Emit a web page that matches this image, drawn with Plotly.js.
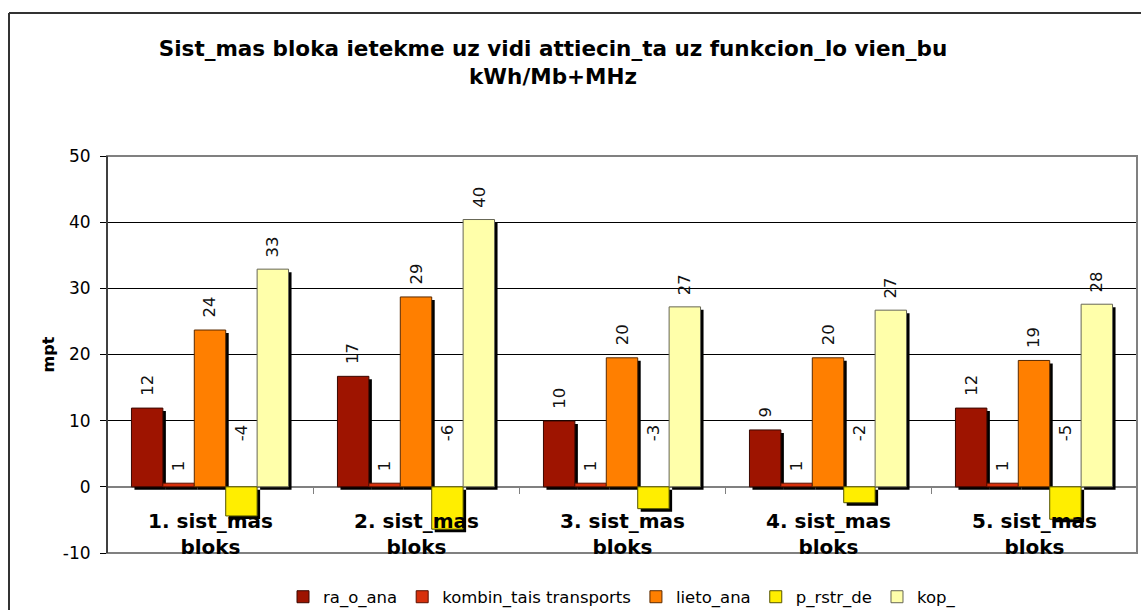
<!DOCTYPE html>
<html>
<head>
<meta charset="utf-8">
<script src="https://cdn.plot.ly/plotly-3.0.1.min.js"></script>
<style>
html,body{margin:0;padding:0;background:#fff;}
#chart{width:1141px;height:610px;}
</style>
</head>
<body>
<div id="chart"></div>
<script>
var categories = ["1. sist_mas<br>bloks", "2. sist_mas<br>bloks", "3. sist_mas<br>bloks", "4. sist_mas<br>bloks", "5. sist_mas<br>bloks"];
var seriesNames = ["ra_o_ana", "kombin_tais transports", "lieto_ana", "p_rstr_de", "kop_"];
var raOAna = [11.9, 16.7, 9.95, 8.6, 11.9];
var kombinTais = [0.55, 0.55, 0.55, 0.55, 0.55];
var lietoAna = [23.7, 28.7, 19.5, 19.5, 19.1];
var pRstrDe = [-4.4, -6.4, -3.3, -2.4, -4.9];
var kop = [32.9, 40.4, 27.2, 26.7, 27.6];
var yTickVals = [-10, 0, 10, 20, 30, 40, 50];
var yTickText = ["-10", "0", "10", "20", "30", "40", "50"];

var seriesValues = [raOAna, kombinTais, lietoAna, pRstrDe, kop];
var colors = ["#9E1400", "#D8300C", "#FF7F00", "#FFEE00", "#FFFFAA"];
var lineColors = ["#3a0800", "#5a1000", "#5a2a00", "#555500", "#666655"];

var FONT = "DejaVu Sans, Verdana, sans-serif";
var barW = 0.1525;
var startOff = -barW * 2.5;
var shadowDx = 3 / 206;
var shadowDy = 3 * 60 / 397;

var traces = [];
seriesValues.forEach(function(vals, i) {
  traces.push({
    type: "bar", x: categories, y: vals,
    base: vals.map(function(){ return -shadowDy; }),
    width: barW, offset: startOff + i * barW + shadowDx,
    marker: {color: "#000000", line: {width: 0}},
    showlegend: false, hoverinfo: "skip"
  });
});
seriesValues.forEach(function(vals, i) {
  traces.push({
    type: "bar", name: seriesNames[i], x: categories, y: vals,
    width: barW, offset: startOff + i * barW,
    marker: {color: colors[i], line: {color: lineColors[i], width: 1}}
  });
});

var annotations = [];
seriesValues.forEach(function(vals, i) {
  vals.forEach(function(v, j) {
    var pos = v >= 0;
    annotations.push({
      x: j, y: pos ? v : 0, xref: "x", yref: "y",
      text: String(Math.round(v)),
      textangle: -90, showarrow: false,
      xanchor: "center", yanchor: "bottom",
      xshift: (startOff + (i + 0.5) * barW) * 206,
      yshift: pos ? 10 : 44,
      font: {family: FONT, size: 16.5, color: "#111"}
    });
  });
});
categories.forEach(function(c, j) {
  annotations.push({
    x: j, y: 0, xref: "x", yref: "y", text: "<b>" + c + "</b>",
    showarrow: false, xanchor: "center", yanchor: "top", yshift: -20,
    font: {family: FONT, size: 20, color: "#000"}
  });
});

var layout = {
  width: 1141, height: 610,
  margin: {l: 107, r: 4, t: 156, b: 57, autoexpand: false},
  paper_bgcolor: "#fff", plot_bgcolor: "#fff",
  barmode: "overlay",
  title: {
    text: "<b>Sist_mas bloka ietekme uz vidi attiecin_ta uz funkcion_lo vien_bu<br>kWh/Mb+MHz</b>",
    x: 553 / 1141, xanchor: "center", xref: "container",
    y: 1 - 56 / 610, yanchor: "middle", yref: "container",
    font: {family: FONT, size: 21.5, color: "#000"}
  },
  xaxis: {
    type: "category", showticklabels: false, showgrid: false,
    range: [-0.5, 4.5], fixedrange: true,
    anchor: "free", position: 1 / 6,
    showline: false, zeroline: false,
    ticks: "outside", tickson: "boundaries", ticklen: 6, tickcolor: "#808080",
    domain: [0, 1]
  },
  yaxis: {
    range: [-10, 50], tickvals: yTickVals, ticktext: yTickText,
    ticks: "outside", ticklen: 6, tickcolor: "#000",
    ticklabelstandoff: 6,
    showline: true, linecolor: "#000", linewidth: 1,
    showgrid: true, gridcolor: "#000", gridwidth: 1,
    zeroline: true, zerolinecolor: "#808080", zerolinewidth: 2,
    tickfont: {family: FONT, size: 17, color: "#000"},
    title: {text: "<b>mpt</b>", standoff: 4,
      font: {family: FONT, size: 16, color: "#000"}}
  },
  legend: {
    orientation: "h", x: 0.5, xanchor: "center",
    yref: "container", y: 1 - 597 / 610, yanchor: "middle",
    font: {family: FONT, size: 16.5, color: "#000"},
    itemwidth: 30, tracegroupgap: 0, traceorder: "normal"
  },
  annotations: annotations,
  shapes: [
    {type: "rect", xref: "paper", yref: "paper", x0: 0, x1: 1, y0: 0, y1: 1,
     line: {color: "#808080", width: 2}, layer: "above"},
    {type: "line", xref: "paper", yref: "paper", x0: 0, x1: 0, y0: 0, y1: 1,
     line: {color: "#000", width: 1}, layer: "above"},
    {type: "line", xref: "paper", yref: "paper", x0: (9 - 107) / 1030, x1: 1.02, y0: 1 + (156 - 13) / 397, y1: 1 + (156 - 13) / 397,
     line: {color: "#333", width: 2}},
    {type: "line", xref: "paper", yref: "paper", x0: (9 - 107) / 1030, x1: (9 - 107) / 1030, y0: -0.2, y1: 1 + (156 - 13) / 397,
     line: {color: "#333", width: 2}}
  ],
  showlegend: true
};
Plotly.newPlot("chart", traces, layout, {displayModeBar: false, staticPlot: true});
</script>
</body>
</html>
